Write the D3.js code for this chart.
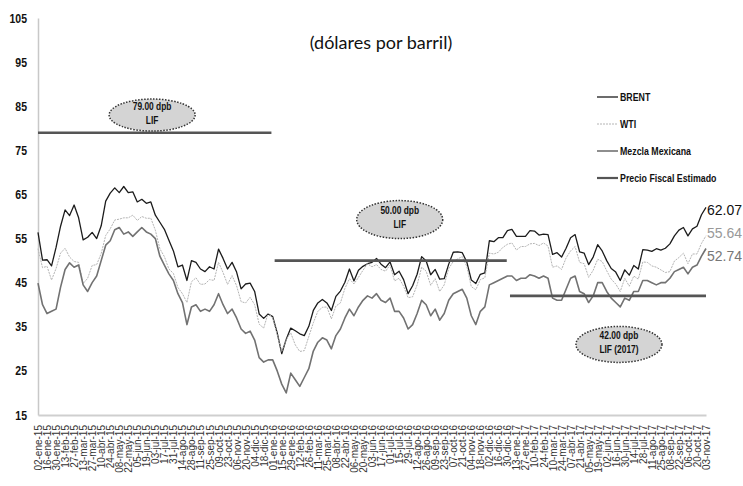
<!DOCTYPE html>
<html>
<head>
<meta charset="utf-8">
<script src="https://cdn.jsdelivr.net/npm/d3@7"></script>
<style>
body { margin: 0; background: #fff; }
svg { display: block; }
.narrow { font-family: "Liberation Sans", Arial, sans-serif; font-weight: bold; }
</style>
</head>
<body>
<div class="data"></div>
<script>
// Precios semanales (viernes) desde 02-ene-15 hasta 03-nov-17
const fechaInicio = "2015-01-02"
const fechaFin = "2017-11-03"

const brent = [
  // 2015
  56.4, 50.1, 50.2, 48.8, 53.0, 57.8, 61.5, 60.2, 62.6, 59.7, 54.7, 55.3, 56.4,
  55.0, 57.9, 63.5, 65.3, 66.5, 65.4, 66.8, 65.4, 65.6, 63.3, 63.9, 63.0, 63.3,
  60.3, 58.7, 57.1, 54.6, 52.2, 48.6, 49.0, 45.5, 50.0, 49.6, 48.1, 47.5, 48.6,
  48.1, 52.6, 50.5, 48.1, 49.6, 47.4, 43.6, 44.7, 44.9, 43.0, 37.9, 36.9, 37.9,
  // 2016
  37.3, 33.6, 28.9, 32.2, 34.7, 34.1, 33.4, 33.0, 35.1, 38.7, 40.4, 41.2, 40.4,
  38.7, 41.9, 43.1, 45.1, 48.1, 45.4, 47.8, 48.7, 49.3, 49.6, 50.5, 49.2, 48.4,
  49.7, 46.8, 47.6, 45.7, 42.5, 44.3, 46.9, 50.9, 49.9, 46.8, 48.0, 45.8, 45.9,
  49.2, 51.9, 52.0, 51.8, 49.7, 45.6, 44.8, 46.9, 47.2, 54.5, 54.3, 55.2, 55.2, 56.8,
  // 2017
  57.1, 55.5, 55.5, 55.5, 56.8, 56.7, 55.8, 56.0, 55.9, 51.4, 51.8, 50.8, 52.8,
  55.2, 55.9, 52.0, 51.7, 49.1, 50.8, 53.6, 52.2, 50.0, 48.2, 47.4, 45.5, 47.9,
  46.7, 48.9, 48.1, 52.5, 52.4, 52.1, 52.7, 52.4, 52.8, 53.8, 55.6, 56.9, 57.5,
  55.6, 57.2, 57.8, 60.4, 62.07
]

const wti = [
  // 2015
  52.7, 48.4, 48.7, 45.6, 48.2, 51.7, 52.8, 50.8, 49.8, 49.6, 44.8, 46.0, 48.9,
  49.1, 51.6, 55.7, 57.2, 59.2, 59.4, 59.7, 59.7, 60.3, 59.1, 60.0, 59.6, 59.6,
  56.9, 52.7, 50.9, 48.1, 47.1, 43.9, 42.5, 40.5, 45.2, 46.1, 44.6, 44.7, 45.7,
  45.5, 49.6, 47.3, 44.6, 46.6, 44.3, 40.7, 40.4, 41.7, 40.0, 35.6, 34.7, 38.1,
  // 2016
  37.0, 33.2, 29.4, 32.2, 33.6, 30.9, 29.4, 29.6, 32.8, 35.9, 38.5, 39.4, 39.5,
  36.8, 39.7, 40.4, 43.7, 45.9, 44.7, 46.2, 47.8, 49.3, 48.6, 49.1, 48.0, 47.6,
  49.0, 45.4, 46.0, 44.2, 41.6, 41.8, 44.5, 48.5, 47.6, 44.4, 45.9, 43.0, 44.5,
  48.2, 49.8, 50.4, 50.9, 48.7, 44.1, 43.4, 45.7, 46.1, 51.7, 51.5, 51.9, 53.0, 53.7,
  // 2017
  54.0, 52.4, 53.2, 53.2, 53.8, 53.9, 53.4, 54.0, 53.3, 48.5, 48.8, 48.0, 50.6,
  52.2, 53.2, 49.6, 49.3, 46.2, 47.8, 50.3, 49.8, 47.7, 45.8, 44.7, 43.0, 46.0,
  44.2, 46.5, 45.8, 49.7, 49.6, 48.8, 48.5, 47.9, 47.3, 47.5, 49.9, 50.7, 51.7,
  49.3, 51.5, 51.5, 53.9, 55.64
]

const mezcla = [
  // 2015
  44.9, 40.0, 38.0, 38.5, 39.0, 44.0, 48.0, 49.5, 48.5, 49.0, 44.5, 43.0, 45.0,
  46.5, 50.0, 53.5, 54.5, 57.0, 57.5, 56.0, 56.5, 55.5, 56.5, 57.5, 56.5, 56.0,
  55.0, 51.0, 49.0, 47.0, 45.5, 42.5, 40.5, 35.5, 39.5, 40.0, 38.5, 39.0, 38.5,
  40.0, 42.5, 40.0, 38.0, 39.0, 37.0, 34.5, 33.5, 34.0, 32.0, 28.0, 27.0, 27.5,
  // 2016
  27.5, 25.0, 22.0, 20.0, 24.5, 23.0, 21.5, 23.5, 25.5, 29.5, 31.5, 32.5, 32.0,
  30.0, 33.0, 34.5, 37.0, 39.0, 37.5, 39.5, 41.0, 42.0, 41.5, 42.5, 41.0, 40.5,
  41.5, 38.5, 38.5, 37.0, 34.5, 35.5, 38.0, 41.0, 40.0, 37.5, 39.0, 36.5, 38.0,
  41.0, 42.5, 43.0, 43.5, 41.5, 37.5, 35.5, 38.5, 39.5, 44.5, 45.0, 45.5, 46.0, 46.5,
  // 2017
  46.5, 45.5, 46.0, 46.0, 46.8, 46.5, 46.0, 46.5, 46.0, 41.5, 41.0, 41.0, 43.5,
  46.0, 46.5, 43.0, 42.5, 40.5, 42.0, 45.0, 45.0, 43.0, 41.5, 40.5, 39.5, 41.5,
  41.0, 43.0, 43.0, 45.5, 45.5, 45.0, 44.5, 45.0, 45.0, 46.0, 47.5, 48.0, 48.5,
  47.0, 48.5, 49.0, 51.0, 52.74
]

// Precio fiscal estimado (LIF) por tramo
const fiscalDesde = ["2015-01-02", "2016-01-04", "2017-01-03"]
const fiscalHasta = ["2015-12-30", "2016-12-29", "2017-11-03"]
const fiscalValor = [79, 50, 42]
const fiscalTexto = [["79.00 dpb", "LIF"], ["50.00 dpb", "LIF"], ["42.00 dpb", "LIF (2017)"]]

const nombresSeries = ["BRENT", "WTI", "Mezcla Mexicana", "Precio Fiscal Estimado"]
const meses = ["ene", "feb", "mar", "abr", "may", "jun", "jul", "ago", "sep", "oct", "nov", "dic"]
const yTicks = [15, 25, 35, 45, 55, 65, 75, 85, 95, 105]

const width = 743, height = 486
const margin = {top: 18, right: 37, bottom: 71, left: 38}
// factor para imitar una letra estrecha (tipo Calibri)
const estrecho = 0.84

const parse = d3.timeParse("%Y-%m-%d")
const inicio = parse(fechaInicio), fin = parse(fechaFin)
const fechas = brent.map((d, i) => d3.timeDay.offset(inicio, 7 * i))

const x = d3.scaleTime()
    .domain([inicio, fin])
    .range([margin.left, width - margin.right])

const y = d3.scaleLinear()
    .domain([15, 105])
    .range([height - margin.bottom, margin.top])

const svg = d3.select(".data").append("svg")
    .attr("width", width)
    .attr("height", height)

// estilo de cada serie
const estilos = [
    {color: "#1c1c1c", ancho: 1.3, dash: null},
    {color: "#b4b4b4", ancho: 1, dash: "2,1"},
    {color: "#727272", ancho: 1.6, dash: null},
    {color: "#555555", ancho: 2.6, dash: null}
]

// texto estrecho en negrita colocado en (px, py)
function textoEstrecho(parent, px, py, size, anchor, txt) {
    return parent.append("text")
        .attr("class", "narrow")
        .attr("transform", "translate(" + px + "," + py + ") scale(" + estrecho + ",1)")
        .attr("text-anchor", anchor)
        .attr("dy", "0.35em")
        .style("font-size", size + "px")
        .attr("fill", "#111")
        .text(txt)
}

// eje y
svg.append("g")
    .attr("transform", "translate(" + margin.left + ",0)")
    .call(d3.axisLeft(y).tickValues(yTicks).tickSize(0).tickPadding(11))
    .call(g => g.select(".domain").attr("stroke", "#c8c8c8").attr("stroke-width", 1.5))
    .call(g => g.selectAll("text")
        .attr("class", "narrow")
        .attr("x", -11 / estrecho)
        .attr("transform", "scale(" + estrecho + ",1)")
        .attr("fill", "#111")
        .style("font-size", "12.5px"))

// eje x, una etiqueta cada 14 días
const fmtDia = d3.timeFormat("%d"), fmtAnio = d3.timeFormat("%y")
const xTicks = d3.timeDay.range(inicio, d3.timeDay.offset(fin, 1), 14)

svg.append("g")
    .attr("transform", "translate(0," + y(15) + ")")
    .call(d3.axisBottom(x).tickValues(xTicks).tickSize(0)
        .tickFormat(d => fmtDia(d) + "-" + meses[d.getMonth()] + "-" + fmtAnio(d)))
    .call(g => g.select(".domain").attr("stroke", "#cfcfcf").attr("stroke-width", 2))
    .call(g => g.selectAll("text")
        .attr("transform", "rotate(-90)")
        .attr("x", -10)
        .attr("y", 0)
        .attr("dy", "0.35em")
        .style("text-anchor", "end")
        .style("font-family", "'Liberation Sans', Arial, sans-serif")
        .style("font-size", "10px")
        .attr("fill", "#333"))

// líneas de precios
const line = d3.line()
    .x((d, i) => x(fechas[i]))
    .y(d => y(d))

;[brent, wti, mezcla].forEach((serie, k) => {
    svg.append("path")
        .datum(serie)
        .attr("fill", "none")
        .attr("stroke", estilos[k].color)
        .attr("stroke-width", estilos[k].ancho)
        .attr("stroke-dasharray", estilos[k].dash)
        .attr("stroke-linejoin", "round")
        .attr("d", line)
})

// tramos del precio fiscal
svg.selectAll(".fiscal")
    .data(fiscalValor)
    .enter().append("line")
        .attr("class", "fiscal")
        .attr("x1", (d, i) => x(parse(fiscalDesde[i])))
        .attr("x2", (d, i) => x(parse(fiscalHasta[i])))
        .attr("y1", d => y(d))
        .attr("y2", d => y(d))
        .attr("stroke", estilos[3].color)
        .attr("stroke-width", estilos[3].ancho)

// globos de texto sobre cada tramo
const notas = [
    {fecha: "2015-06-28", valor: 83, ry: 16},
    {fecha: "2016-07-16", valor: 59.3, ry: 19},
    {fecha: "2017-06-21", valor: 31, ry: 18}
]
notas.forEach((n, i) => {
    const cx = x(parse(n.fecha)), cy = y(n.valor)
    svg.append("ellipse")
        .attr("cx", cx).attr("cy", cy)
        .attr("rx", 43).attr("ry", n.ry)
        .attr("fill", "#d4d4d4")
        .attr("stroke", "#333")
        .attr("stroke-width", 1.5)
        .attr("stroke-dasharray", "1.5,1.5")
    textoEstrecho(svg, cx, cy - 9, 10, "middle", fiscalTexto[i][0])
    textoEstrecho(svg, cx, cy + 5, 10, "middle", fiscalTexto[i][1])
})

// título
svg.append("text")
    .attr("x", 381).attr("y", 49)
    .attr("text-anchor", "middle")
    .style("font-family", "Lato, 'Open Sans', sans-serif")
    .style("font-size", "18px")
    .attr("fill", "#111")
    .text("(dólares por barril)")

// leyenda
const legend = svg.selectAll(".legend")
    .data(nombresSeries)
    .enter().append("g")
        .attr("class", "legend")
        .attr("transform", (d, i) => "translate(597," + (97 + i * 27) + ")")

legend.append("line")
    .attr("x1", 0).attr("x2", 21)
    .attr("stroke", (d, i) => estilos[i].color)
    .attr("stroke-width", (d, i) => Math.min(estilos[i].ancho, 2.2))
    .attr("stroke-dasharray", (d, i) => estilos[i].dash)

legend.each(function(d) {
    textoEstrecho(d3.select(this), 23, 0, 10.5, "start", d)
})

// valores finales
const finales = [brent, wti, mezcla].map(s => s[s.length - 1])
const desplaza = [3, -3, 8]
const coloresFinal = ["#111", "#999", "#777"]
svg.selectAll(".final")
    .data(finales)
    .enter().append("text")
        .attr("class", "final")
        .attr("x", x(fin) + 1)
        .attr("y", (d, i) => y(d) + desplaza[i])
        .attr("dy", "0.35em")
        .style("font-family", "'Liberation Sans', Arial, sans-serif")
        .style("font-size", "14px")
        .attr("fill", (d, i) => coloresFinal[i])
        .text(d => d.toFixed(2))
</script>
</body>
</html>
